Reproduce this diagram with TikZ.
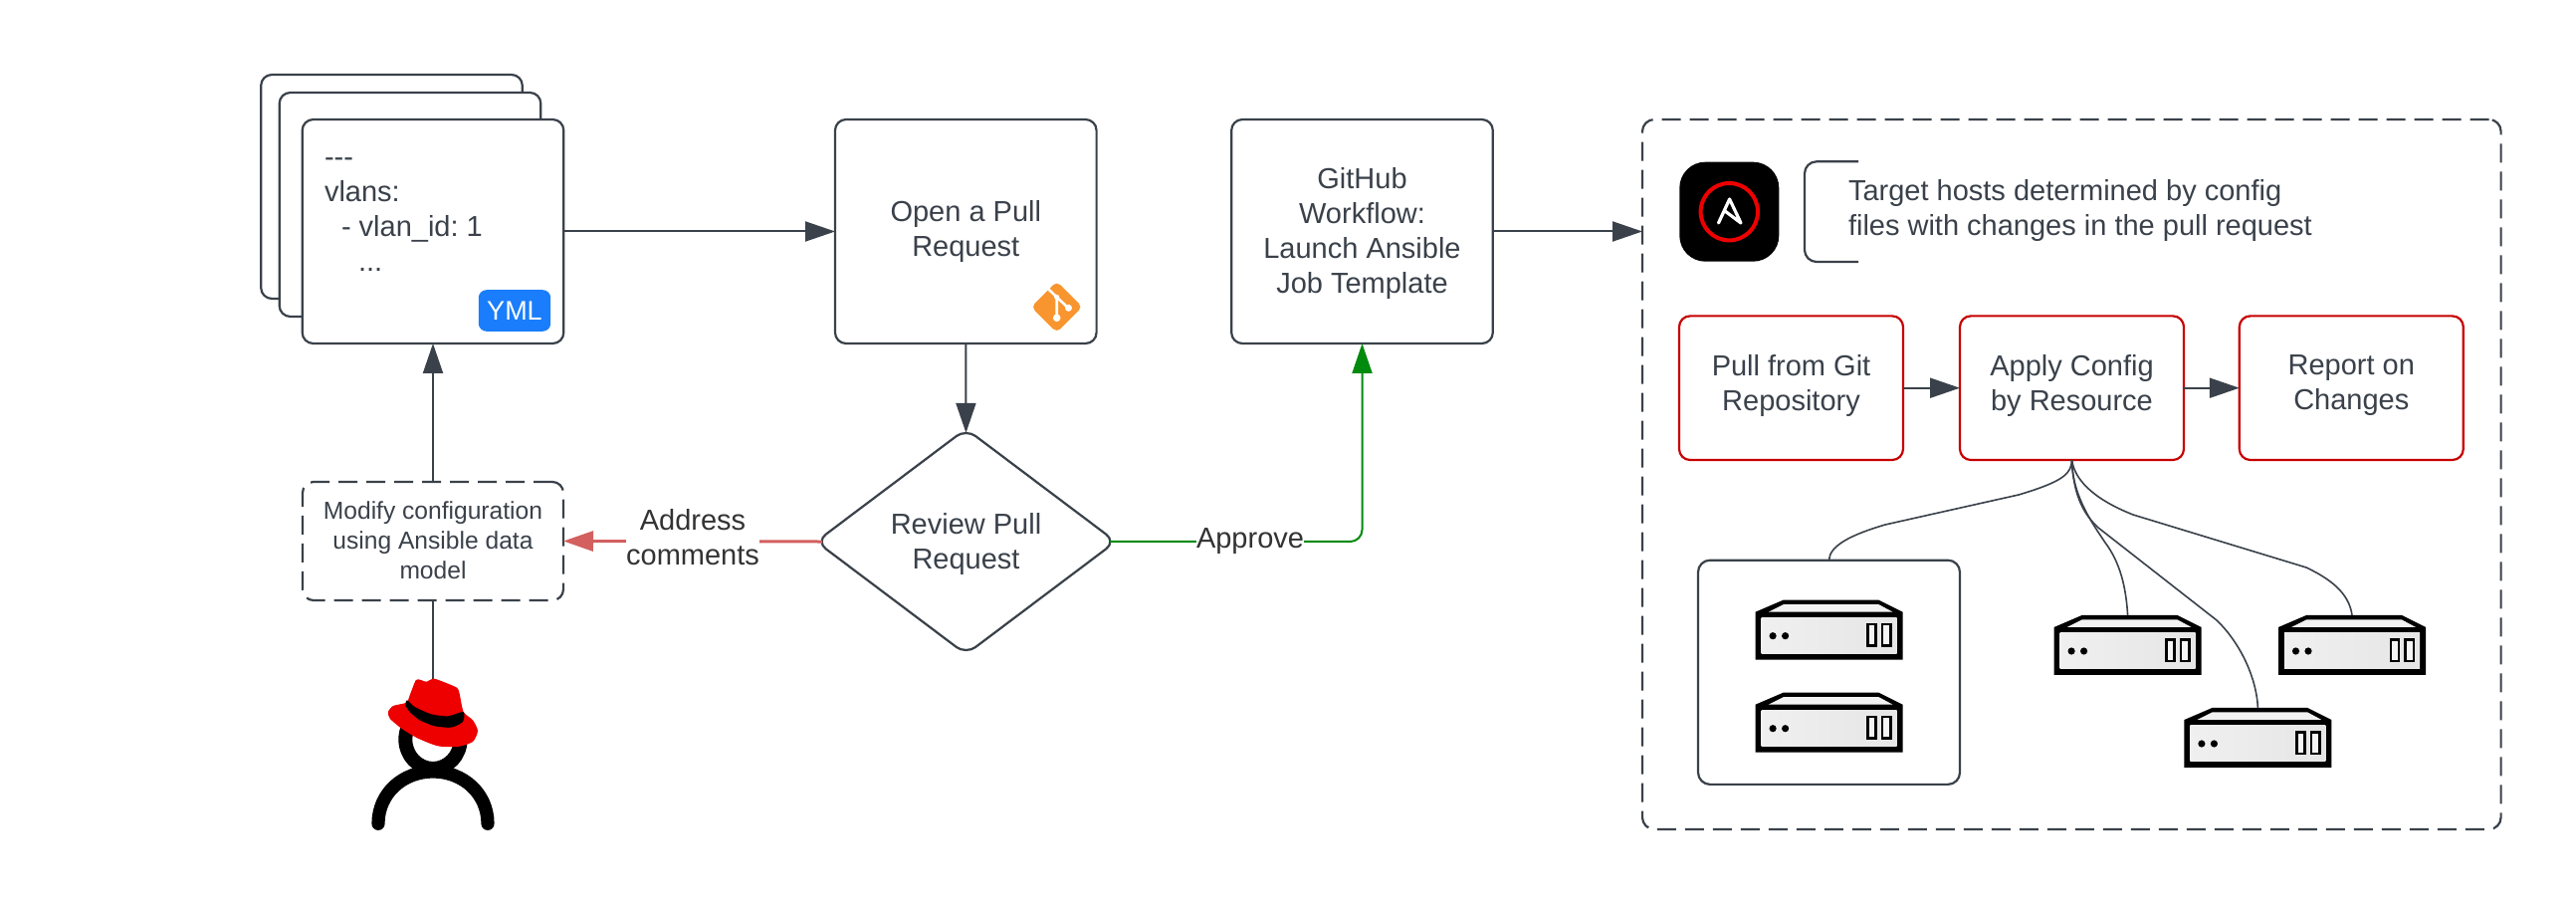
\documentclass[tikz,border=0pt]{standalone}
\usepackage{fontspec}
\setmainfont{Liberation Sans}
\frenchspacing
\usetikzlibrary{arrows.meta,shapes.geometric,calc}
\definecolor{ink}{HTML}{3A414A}
\definecolor{redbox}{HTML}{C70000}
\definecolor{redline}{HTML}{D35F5F}
\definecolor{greenline}{HTML}{008A0E}
\definecolor{ymlblue}{HTML}{1A7DFB}
\definecolor{gitorange}{HTML}{F9952F}
\definecolor{hatred}{HTML}{EE0000}
\tikzset{
  x=0.5pt,y=-0.5pt,
  basebox/.style={rectangle,draw=ink,line width=1.1pt,rounded corners=5.5pt,fill=white,inner sep=0pt,outer sep=0pt,align=center,text=ink,font=\fontsize{14.5}{17.5}\selectfont},
  bigcard/.style={basebox,minimum width=131.3pt,minimum height=112.5pt},
  redcard/.style={basebox,draw=redbox,minimum width=112.5pt,minimum height=72.3pt},
  dashbox/.style={basebox,dash pattern=on 9.5pt off 4.5pt},
  txt/.style={inner sep=0pt,outer sep=0pt,text=ink,font=\fontsize{14.5}{17.5}\selectfont},
  edgelabel/.style={inner sep=0pt,outer sep=0pt,fill=white,align=center,text=black!80,font=\fontsize{14.5}{17.5}\selectfont},
  flow/.style={draw=ink,line width=1pt,-{Triangle[length=15pt,width=10pt]}},
  plainline/.style={draw=ink,line width=1pt},
  thin curve/.style={draw=ink,line width=0.8pt},
  serverpic/.pic={
    \fill[black] (0,12)--(28,0)--(124,0)--(148,12)--(148,60)--(0,60)--cycle;
    \fill[black!5] (28,4.5)--(124,4.5)--(138,12)--(13,12)--cycle;
    \shade[left color=black!6,middle color=black!3,right color=black!10] (6,17.5) rectangle (142,54);
    \fill[black] (17.5,36) circle (3.6) (30,36) circle (3.6);
    \draw[black,line width=1.2pt,fill=black!4] (113,24.5) rectangle (121,46) (127.5,24.5) rectangle (136,46);
    \coordinate (-top) at (74,0);
  }
}
\begin{document}
\begin{tikzpicture}
\fill[white] (0,0) rectangle (2588,908);
\useasboundingbox (0,0) rectangle (2588,908);

% YAML cards
\node[bigcard] (card1) at (393.5,187.5) {};
\node[bigcard] (card2) at (412,205.5) {};
\node[bigcard] (card3) at (435,232.5) {};
\node[txt,anchor=north west,align=left] (yamltext) at (326,159) {{-}{-}{-}\\vlans:\\\hspace*{8.5pt}- vlan\symbol{95}id: 1\\\hspace*{17pt}...};
\node[rectangle,fill=ymlblue,rounded corners=4pt,minimum width=36.2pt,minimum height=20.8pt,inner sep=0pt,text=white,font=\fontsize{13.5}{14}\selectfont] (yml) at (517,312) {YML};

% Boxes
\node[bigcard] (pr) at (970.3,232.5) {Open a Pull\\Request};
\node[bigcard] (gh) at (1368.5,232.5) {GitHub\\Workflow:\\Launch Ansible\\Job Template\\[-16.5pt]};
\node[dashbox,minimum width=131pt,minimum height=59.5pt,font=\fontsize{12.3}{15}\selectfont] (modify) at (435,543.5) {Modify configuration\\using Ansible data\\model\\[-14pt]};
\node[diamond,draw=ink,line width=1.1pt,rounded corners=6pt,fill=white,aspect=1.33,minimum width=150.5pt,minimum height=113.2pt,inner sep=0pt,outer sep=0pt,align=center,text=ink,font=\fontsize{14.5}{17.5}\selectfont] (review) at (970.5,544) {Review Pull\\Request\\[-16.5pt]};

% Git logo
\fill[gitorange,rounded corners=2.5pt] (1061.7,282.6)--(1087.4,308.3)--(1061.7,334)--(1036,308.3)--cycle;
\draw[white,line width=1.3pt] (1053,290)--(1061.7,298.5)--(1061.7,319.5) (1061.7,298.5)--(1073.5,309.5);
\fill[white] (1061.7,298.5) circle (2.6) (1061.7,319.3) circle (3.8) (1073.5,309.3) circle (3.5);

% Ansible panel
\node[dashbox,minimum width=431.3pt,minimum height=356.5pt,rounded corners=6pt] (panel) at (2081.3,476.5) {};
\fill[black,rounded corners=13pt] (1687.3,162.7) rectangle (1787.3,262.7);
\node[circle,draw=hatred,line width=2pt,minimum size=28.7pt,inner sep=0pt] (anslogo) at (1737.3,212.7) {};
\draw[white,line width=1.6pt,line cap=round,line join=round] (1726.5,224)--(1737.6,200)--(1749,224)--(1733,212);
\draw[ink,line width=1.1pt,rounded corners=6pt] (1867,162.3)--(1813,162.3)--(1813,263)--(1867,263);
\node[txt,anchor=west,align=left] (target) at (1857,211.5) {Target hosts determined by config\\files with changes in the pull request};

\node[redcard] (pull) at (1799.5,389.7) {Pull from Git\\Repository\\[-11.8pt]};
\node[redcard] (apply) at (2081.5,389.7) {Apply Config\\by Resource\\[-11.8pt]};
\node[redcard] (report) at (2362.3,389.7) {Report on\\Changes\\[-11.8pt]};

% Servers
\node[basebox,minimum width=131.5pt,minimum height=112.6pt,rounded corners=6pt] (group) at (1837.5,675.3) {};
\pic (s1) at (1763.6,602.7) {serverpic};
\pic (s2) at (1763.6,695.7) {serverpic};
\pic (s3) at (2063.6,618) {serverpic};
\pic (s4) at (2289,618) {serverpic};
\pic (s5) at (2194.4,711) {serverpic};

% Connectors
\draw[flow] (card3.east) -- (pr.west);
\draw[flow,shorten >=-2pt] (pr.south) -- (review.north);
\draw[flow] (modify.north) -- (card3.south);
\draw[flow] (gh.east) -- (gh.east -| panel.west);
\draw[flow] (pull.east) -- (apply.west);
\draw[flow] (apply.east) -- (report.west);
\coordinate (hattop) at (435,684);
\draw[plainline] (modify.south) -- (hattop);
\draw[draw=redline,line width=1.5pt,-{Triangle[length=15pt,width=10pt]},shorten <=-3pt] (review.west) -- (modify.east);
\node[edgelabel] (addr) at (696,540) {Address\\comments};
\draw[draw=greenline,line width=1pt,rounded corners=6pt,-{Triangle[length=15pt,width=10pt]},shorten <=-3pt] (review.east) -| (gh.south);
\node[edgelabel] (appr) at (1256,543.5) {Approve};

\draw[thin curve] (apply.south) .. controls (2081,475) and (2075,483) .. (2028,497) -- (1894,527) .. controls (1860,537) and (1838,548) .. (group.north);
\draw[thin curve] (apply.south) .. controls (2082,495) and (2098,520) .. (2115,545) .. controls (2130,565) and (2136,590) .. (s3-top);
\draw[thin curve] (apply.south) .. controls (2083,500) and (2095,518) .. (2108,530) -- (2227,623) .. controls (2250,645) and (2267,680) .. (s5-top);
\draw[thin curve] (apply.south) .. controls (2084,480) and (2100,500) .. (2143,517) -- (2317,570) .. controls (2340,581) and (2360,595) .. (s4-top);

% Person
\begin{scope}[shift={(350,660)},x=0.16667pt,y=-0.16667pt]
  \draw[black,line width=7pt] (255,248) ellipse [x radius=83,y radius=88];
  \draw[black,line width=6.6pt,line cap=round] (90,502) .. controls (90,410) and (165,345) .. (255,345) .. controls (345,345) and (420,410) .. (420,502);
  \fill[hatred] plot[smooth cycle,tension=0.4] coordinates {(203,70)(215,68)(235,74)(258,65)(300,80)(328,93)(335,110)(347,165)(375,190)(390,222)(375,255)(330,270)(270,268)(210,245)(160,215)(125,185)(120,165)(135,147)(175,137)(185,115)};
  \fill[black] plot[smooth cycle,tension=0.4] coordinates {(177,130)(200,150)(250,172)(300,178)(347,165)(345,195)(310,212)(260,208)(215,190)(185,165)(172,145)};
\end{scope}
\end{tikzpicture}
\end{document}
